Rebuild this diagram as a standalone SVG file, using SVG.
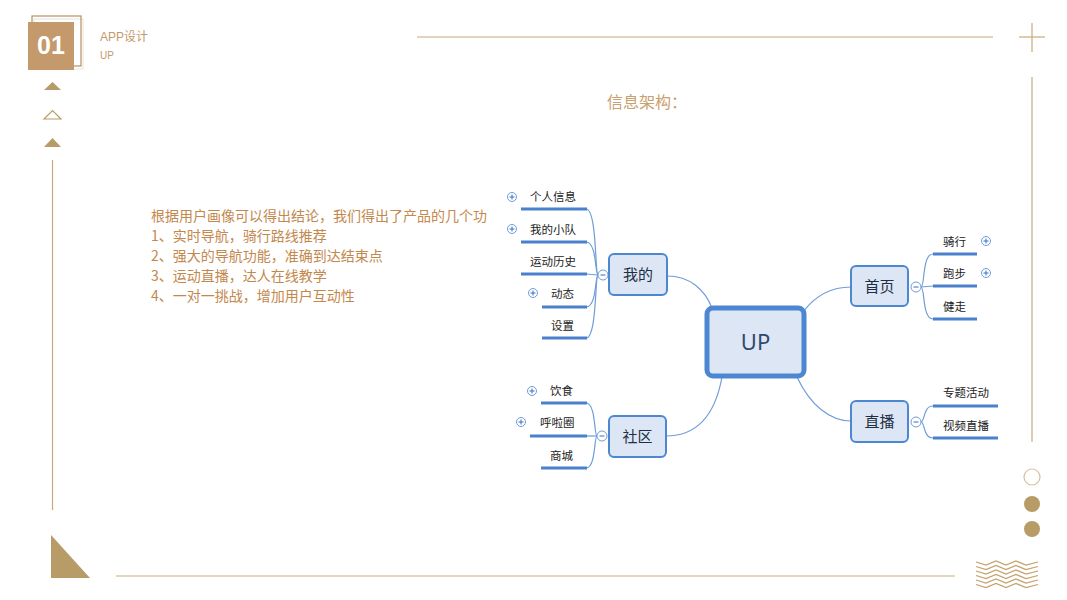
<svg xmlns="http://www.w3.org/2000/svg" width="1067" height="600" viewBox="0 0 1067 600">
<defs>
<style>
.deco{stroke:#c8aa7c;stroke-width:1.2;fill:none}
.gold{fill:#b89c68}
.hd{font-family:"Liberation Sans","Noto Sans CJK SC",sans-serif;fill:#c4996b}
.body{font-family:"Noto Sans CJK SC","Liberation Sans",sans-serif;font-size:14px;fill:#c3884d}
.t{font-family:"Noto Sans CJK SC",sans-serif;font-size:11.5px;fill:#222}
.n{font-family:"Noto Sans CJK SC",sans-serif;font-size:15px;fill:#1e2e45;text-anchor:middle}
.box{fill:#dce6f4;stroke:#4d87d2;stroke-width:2}
.ul{stroke:#4a80cc;stroke-width:3;fill:none}
.cv{stroke:#6f9cd9;stroke-width:1.2;fill:none}
.tg{fill:#fff;stroke:#6f9cd9;stroke-width:1}
.pm{stroke:#3b6fb8;stroke-width:1;fill:none}
</style>
<g id="plus"><circle r="4.5" class="tg"/><path class="pm" d="M-2.5,0H2.5M0,-2.5V2.5"/></g>
<g id="minus"><circle r="5" class="tg"/><path class="pm" d="M-2.5,0H2.5"/></g>
</defs>
<rect width="1067" height="600" fill="#fff"/>

<!-- header decoration -->
<g id="header">
<rect x="34" y="19" width="49" height="50" fill="none" stroke="#e4e4e4" stroke-width="1"/>
<rect x="32" y="16" width="49" height="50" fill="none" stroke="#b8905f" stroke-width="1.2"/>
<rect x="28" y="22" width="46" height="48" fill="#c4996b"/>
<text x="51" y="54" text-anchor="middle" font-family="Liberation Sans,sans-serif" font-weight="bold" font-size="25" fill="#fff">01</text>
<text x="100" y="41" class="hd" font-size="12">APP设计</text>
<text x="100" y="59" class="hd" font-size="10">UP</text>
</g>

<g id="side-decor">
<polygon class="gold" points="44,90 61,90 52.5,82"/>
<polygon points="44,119 61,119 52.5,110.5" fill="none" stroke="#b89c68" stroke-width="1.2"/>
<polygon class="gold" points="44,147 61,147 52.5,138"/>
<line class="deco" x1="52.5" y1="160" x2="52.5" y2="510"/>
<polygon class="gold" points="51,535 51,578 90,578"/>
<line class="deco" x1="116" y1="576" x2="955" y2="576"/>
<line class="deco" x1="417" y1="37" x2="993" y2="37"/>
<line class="deco" x1="1019" y1="37" x2="1045" y2="37"/>
<line class="deco" x1="1032" y1="23" x2="1032" y2="52"/>
<line class="deco" x1="1032" y1="77" x2="1032" y2="442"/>
<circle cx="1032" cy="477" r="8" fill="none" stroke="#d6bf9c" stroke-width="1.2"/>
<circle cx="1032" cy="504" r="8" class="gold"/>
<circle cx="1032" cy="529" r="8" class="gold"/>
<g stroke="#c4a26e" stroke-width="1.2" fill="none">
<path d="M976,562 L986,565 L996,561 L1006,565 L1016,561 L1026,565 L1038,562"/>
<path d="M976,566.5 L986,569.5 L996,565.5 L1006,569.5 L1016,565.5 L1026,569.5 L1038,566.5"/>
<path d="M976,571 L986,574 L996,570 L1006,574 L1016,570 L1026,574 L1038,571"/>
<path d="M976,575.5 L986,578.5 L996,574.5 L1006,578.5 L1016,574.5 L1026,578.5 L1038,575.5"/>
<path d="M976,580 L986,583 L996,579 L1006,583 L1016,579 L1026,583 L1038,580"/>
<path d="M976,584.5 L986,587.5 L996,583.5 L1006,587.5 L1016,583.5 L1026,587.5 L1038,584.5"/>
</g>
</g>

<text x="607" y="108" font-family="Noto Sans CJK SC,sans-serif" font-size="16" fill="#c9a06f">信息架构：</text>

<g id="intro">
<text class="body" x="151" y="221">根据用户画像可以得出结论，我们得出了产品的几个功</text>
<text class="body" x="151" y="241">1、实时导航，骑行路线推荐</text>
<text class="body" x="151" y="261">2、强大的导航功能，准确到达结束点</text>
<text class="body" x="151" y="281">3、运动直播，达人在线教学</text>
<text class="body" x="151" y="301">4、一对一挑战，增加用户互动性</text>
</g>

<!-- connectors -->
<g id="connectors">
<path class="cv" d="M667,276 C690,276 705,290 712,308"/>
<path class="cv" d="M666,436 C700,436 716,410 722,377"/>
<path class="cv" d="M803,312 C815,296 830,287 851,287"/>
<path class="cv" d="M797,377 C810,405 830,421 851,421"/>
<path class="cv" d="M598,275 C595,275 597,209 586,209"/>
<path class="cv" d="M598,275 C595,275 597,242 586,242"/>
<path class="cv" d="M598,275 L586,274"/>
<path class="cv" d="M598,275 C595,275 597,307 586,307"/>
<path class="cv" d="M598,275 C595,275 597,338 586,338"/>
<path class="cv" d="M597,436 C594,436 596,403 586,403"/>
<path class="cv" d="M597,436 L586,436"/>
<path class="cv" d="M597,436 C594,436 596,468 586,468"/>
<path class="cv" d="M921,287 C925,287 922,254 933,254"/>
<path class="cv" d="M921,287 L933,286"/>
<path class="cv" d="M921,287 C925,287 922,319 933,319"/>
<path class="cv" d="M921,422 C925,422 923,406 933,406"/>
<path class="cv" d="M921,422 C925,422 923,438 933,438"/>
<path class="ul" d="M521,209H587M521,242H587M521,274H587M542,307H587M542,338H587"/>
<path class="ul" d="M541,403H587M530,436H587M541,468H587"/>
<path class="ul" d="M933,254H977M933,286H977M933,319H977"/>
<path class="ul" d="M933,406H998M933,438H998"/>
</g>

<g id="node-UP">
<rect x="707" y="308" width="97" height="68" rx="6" fill="#dce6f4" stroke="#4d87d2" stroke-width="5"/>
<text x="755.5" y="350" text-anchor="middle" font-family="Noto Sans,sans-serif" font-size="22" fill="#2f4a6e">UP</text>
</g>

<g id="node-wode">
<rect class="box" x="609" y="254" width="58" height="41" rx="5"/>
<text class="n" x="638" y="280">我的</text>
<use href="#minus" x="603" y="275"/>
</g>
<g id="node-shequ">
<rect class="box" x="609" y="416" width="57" height="41" rx="5"/>
<text class="n" x="637.5" y="442">社区</text>
<use href="#minus" x="602" y="436"/>
</g>
<g id="node-shouye">
<rect class="box" x="851" y="266" width="57" height="40" rx="5"/>
<text class="n" x="879.5" y="292">首页</text>
<use href="#minus" x="916" y="287"/>
</g>
<g id="node-zhibo">
<rect class="box" x="851" y="401" width="57" height="41" rx="5"/>
<text class="n" x="879.5" y="427">直播</text>
<use href="#minus" x="916" y="422"/>
</g>

<g id="leaves">
<text class="t" x="530" y="201">个人信息</text><use href="#plus" x="512" y="197"/>
<text class="t" x="530" y="234">我的小队</text><use href="#plus" x="512" y="229"/>
<text class="t" x="530" y="266">运动历史</text>
<text class="t" x="551" y="298">动态</text><use href="#plus" x="533" y="293"/>
<text class="t" x="551" y="330">设置</text>
<text class="t" x="550" y="395">饮食</text><use href="#plus" x="532" y="391"/>
<text class="t" x="540" y="427">呼啦圈</text><use href="#plus" x="521" y="422"/>
<text class="t" x="550" y="460">商城</text>
<text class="t" x="943" y="246">骑行</text><use href="#plus" x="986" y="241"/>
<text class="t" x="943" y="278">跑步</text><use href="#plus" x="986" y="273"/>
<text class="t" x="943" y="311">健走</text>
<text class="t" x="943" y="397">专题活动</text>
<text class="t" x="943" y="430">视频直播</text>
</g>
</svg>
